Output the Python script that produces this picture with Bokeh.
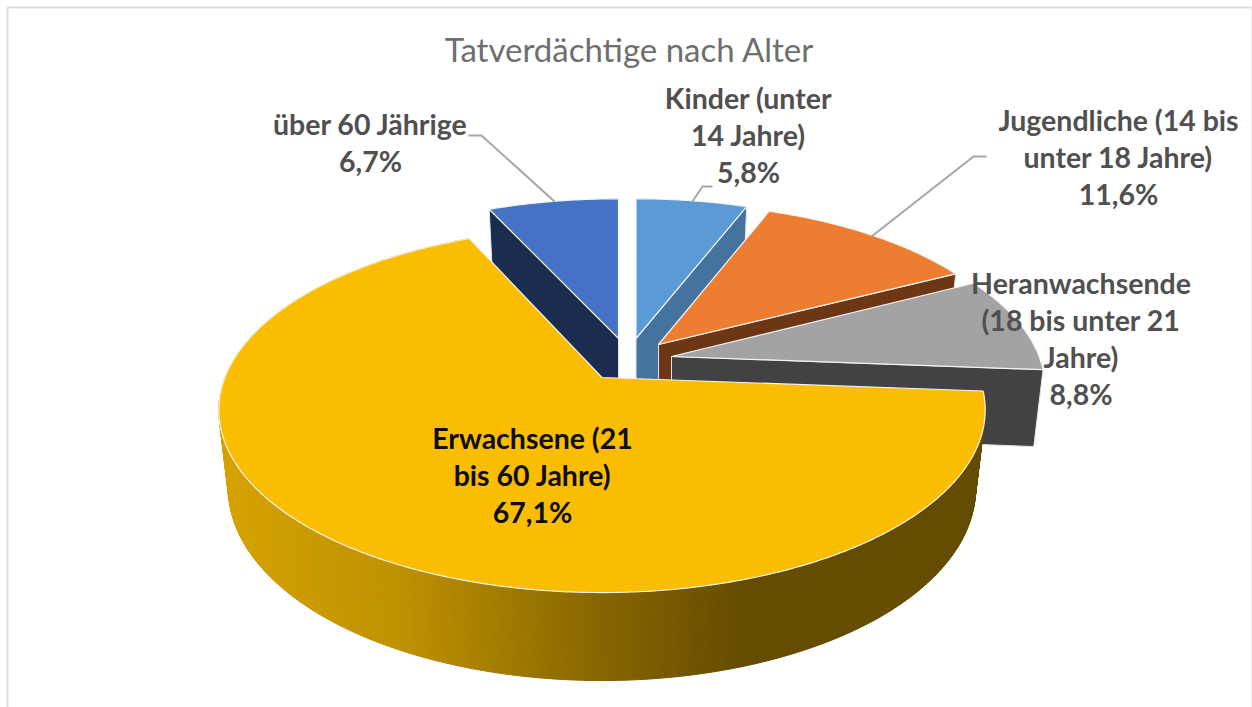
import numpy as np
from bokeh.plotting import figure
from bokeh.models import Range1d
from bokeh.core.properties import value
from bokeh.embed import file_html
from bokeh.resources import INLINE

# ---- data (clockwise from twelve o'clock)
categories = ["Kinder", "Jugendliche", "Heranwachsende", "Erwachsene", "Ueber60"]
shares = [5.8, 11.6, 8.8, 67.1, 6.7]
label_lines = [
    ["Kinder (unter", "14 Jahre)"],
    ["Jugendliche (14 bis", "unter 18 Jahre)"],
    ["Heranwachsende", "(18 bis unter 21", "Jahre)"],
    ["Erwachsene (21", "bis 60 Jahre)"],
    ["über 60 Jährige"],
]
title_text = "Tatverdächtige nach Alter"

# ---- colours
top_colors = ["#5b9bd5", "#ed7d31", "#a3a3a3", "#fbbd00", "#4472c4"]
wall_colors = ["#44739f", "#6d3716", "#424242", None, "#1a2d50"]
label_colors = ["#505050", "#505050", "#505050", "#0d0d0d", "#505050"]

# ---- layout of the exploded slices: apex in page pixels, x and y scale
apex_x = [635.5, 658, 671, 601.5, 618]
apex_y = [338, 344, 356, 377, 338]
scale_x = [0.955, 0.955, 0.97, 0.995, 0.97]
scale_y = [0.93, 0.94, 0.975, 1.0, 0.93]
wall_edge = ["end", "end", "end", None, "start"]
RX, RY, PERSP = 379.0, 176.9, 0.1774
DEPTH0, DEPTH1, XSHRINK = 76.0, 12.0, 0.975

label_cx = [748, 1118, 1080.5, 532, 370]
label_y0 = [97, 119, 282, 437, 123]
LINE_H = 37.2

p = figure(width=1252, height=707, x_range=Range1d(0, 1252), y_range=Range1d(707, 0),
           x_axis_type=None, y_axis_type=None, output_backend="svg", toolbar_location=None,
           min_border=0, outline_line_color=None, background_fill_color="white",
           border_fill_color="white")
p.grid.visible = False


def project(angle_deg, ax, ay, sx, sy):
    a = np.radians(angle_deg)
    u, v = np.sin(a), np.cos(a)
    d = 1 + PERSP * v
    return ax + sx * RX * u / d, ay - sy * RY * v / d, v


def lower(x, y, v, ax):
    return ax + XSHRINK * (x - ax), y + DEPTH0 - DEPTH1 * v


# frame of the picture
p.line([7, 7], [707, 7], line_color="#dcdcdc", line_width=2)
p.line([7, 1252], [7, 7], line_color="#dcdcdc", line_width=2)
p.line([1251, 1251], [7, 707], line_color="#f0f0f0", line_width=1)

total = sum(shares)
edges = np.concatenate([[0], np.cumsum(shares)]) / total * 360

# gradient stops of the round side of the large slice
grad_x = [228, 400, 600, 745, 990]
grad_r = [212, 190, 135, 101, 101]
grad_g = [162, 145, 102, 76, 76]
grad_b = [0, 0, 0, 0, 0]

order = [4, 0, 1, 2, 3]
for i in order:
    a0, a1 = edges[i], edges[i + 1]
    ax, ay, sx, sy = apex_x[i], apex_y[i], scale_x[i], scale_y[i]
    angles = np.linspace(a0, a1, max(int((a1 - a0) * 2), 8) + 1)
    rx, ry, rv = project(angles, ax, ay, sx, sy)
    if wall_edge[i]:
        k = -1 if wall_edge[i] == "end" else 0
        bx, by = lower(rx[k], ry[k], rv[k], ax)
        p.patch([ax, rx[k], bx, ax], [ay, ry[k], by, ay + DEPTH0],
                fill_color=wall_colors[i], line_color="#e4e4e4", line_width=1)
    else:
        bx, by = lower(rx, ry, rv, ax)
        xs, ys, cols = [], [], []
        for j in range(len(angles) - 1):
            xs.append([rx[j], rx[j + 1], bx[j + 1], bx[j]])
            ys.append([ry[j], ry[j + 1], by[j + 1], by[j]])
            m = (rx[j] + rx[j + 1]) / 2
            cols.append("#%02x%02x%02x" % (int(np.interp(m, grad_x, grad_r)),
                                           int(np.interp(m, grad_x, grad_g)),
                                           int(np.interp(m, grad_x, grad_b))))
        p.patches(xs, ys, fill_color=cols, line_color=cols, line_width=1)
    p.patch(np.concatenate([[ax], rx]), np.concatenate([[ay], ry]),
            fill_color=top_colors[i], line_color="#f4f4f4", line_width=1.2)

# leader lines
leader_color = "#a6a6a6"
p.line([468, 481, 554], [135, 135, 201], line_color=leader_color, line_width=2)
p.line([712, 702, 692], [186, 186, 201], line_color=leader_color, line_width=2)
p.line([986, 973, 871], [156, 156, 236], line_color=leader_color, line_width=2)

# labels
for i in range(len(shares)):
    lines = label_lines[i] + [f"{shares[i]:.1f}%".replace(".", ",")]
    ys = [label_y0[i] + n * LINE_H for n in range(len(lines))]
    p.text([label_cx[i]] * len(lines), ys, text=lines, text_font=value("Lato"),
           text_font_style="bold", text_font_size="28.5px", text_color=label_colors[i],
           text_align="center", text_baseline="middle")

p.text([629], [48], text=[title_text], text_font=value("Lato"), text_font_size="33px",
       text_color="#6e6e6e", text_align="center", text_baseline="middle")

open("out.html", "w").write(file_html(p, INLINE))
